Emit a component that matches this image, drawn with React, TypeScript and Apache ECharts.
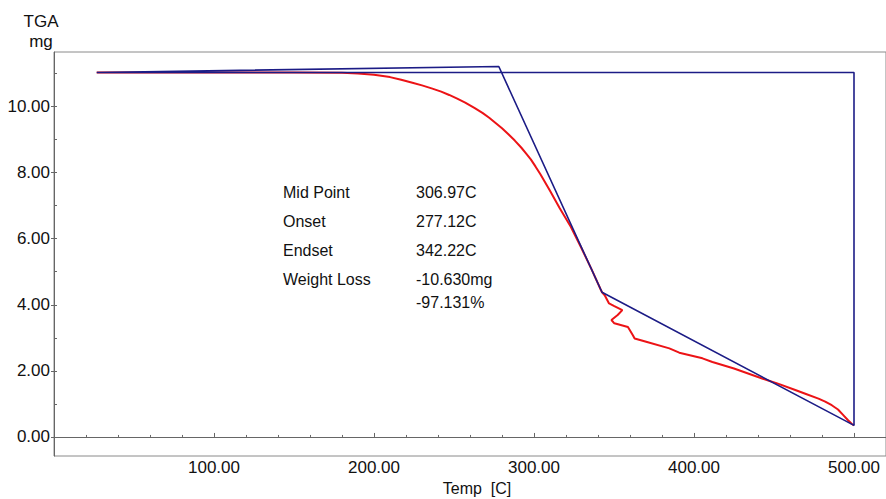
import React, { useEffect, useRef } from "react";
import * as echarts from "echarts";

// TGA mass-loss curve (temperature in C, mass in mg)
const curveTemp = [
  26.7, 60, 100, 150, 180, 190, 200, 210, 217, 224, 230, 236, 242, 247, 252, 257, 263, 268, 272,
  276, 280, 284, 288, 292, 295, 298, 301, 304, 307, 310, 316, 323, 329, 336, 341.6, 342.5, 344.2,
  346.9, 350.2, 355.2, 352.3, 348.4, 350.2, 358.7, 361.8, 362.9, 370.1, 384.6, 390.8, 405.3,
  411.5, 425, 442.6, 452, 463.3, 470, 477.8, 482, 486.1, 490, 493.3, 496, 498.5, 500,
];
const curveMass = [
  11.03, 11.03, 11.03, 11.03, 11.02, 11.0, 10.96, 10.89, 10.81, 10.72, 10.64, 10.55, 10.45, 10.35,
  10.24, 10.12, 9.95, 9.8, 9.66, 9.5, 9.34, 9.16, 8.97, 8.76, 8.58, 8.4, 8.18, 7.95, 7.7, 7.45,
  6.93, 6.36, 5.78, 5.07, 4.47, 4.38, 4.29, 4.04, 3.96, 3.84, 3.69, 3.54, 3.44, 3.33, 3.08, 2.98,
  2.88, 2.68, 2.55, 2.38, 2.27, 2.07, 1.77, 1.62, 1.42, 1.3, 1.16, 1.07, 0.96, 0.83, 0.66, 0.52,
  0.4, 0.35,
];

// Onset / endset construction lines (baseline, tangents, drop at the end)
const constructTemp = [26.7, 500, 500, 342.5, 278.0, 26.7];
const constructMass = [11.03, 11.03, 0.35, 4.38, 11.21, 11.03];

// Axis ticks
const xLabelValues = [100, 200, 300, 400, 500];
const xMinorValues = [20, 40, 60, 80, 120, 140, 160, 180, 220, 240, 260, 280, 320, 340, 360, 380, 420, 440, 460, 480];
const yLabelValues = [0, 2, 4, 6, 8, 10];
const yMinorValues = [1, 3, 5, 7, 9, 11];

// Analysis results
const resultNames = ["Mid Point", "Onset", "Endset", "Weight Loss"];
const resultValues = ["306.97C", "277.12C", "342.22C", "-10.630mg", "-97.131%"];
const resultRowY = [192, 221, 250, 279, 302];

const FONT = "'Liberation Sans', Arial, sans-serif";
const AXIS_COLOR = "#666666";

export default function App() {
  const ref = useRef<HTMLDivElement>(null);

  useEffect(() => {
    document.body.style.margin = "0";
    if (!ref.current) return;
    const chart = echarts.init(ref.current, null, { renderer: "svg" });

    const toPairs = (xs: number[], ys: number[]) => xs.map((x, i) => [x, ys[i]]);

    const xRange = { min: 0, max: 520 };
    const yRange = { min: -0.576, max: 11.65 };

    const graphics: any[] = [
      {
        type: "text",
        x: 41,
        y: 21,
        style: { text: "TGA", font: `17px ${FONT}`, fill: "#111", align: "center", verticalAlign: "middle" },
      },
      {
        type: "text",
        x: 41,
        y: 41,
        style: { text: "mg", font: `17px ${FONT}`, fill: "#111", align: "center", verticalAlign: "middle" },
      },
      {
        type: "text",
        x: 477,
        y: 488,
        style: { text: "Temp  [C]", font: `16px ${FONT}`, fill: "#111", align: "center", verticalAlign: "middle" },
      },
    ];
    resultNames.forEach((name, i) => {
      graphics.push({
        type: "text",
        x: 283,
        y: resultRowY[i],
        style: { text: name, font: `16px ${FONT}`, fill: "#111", verticalAlign: "middle" },
      });
    });
    resultValues.forEach((val, i) => {
      graphics.push({
        type: "text",
        x: 416,
        y: resultRowY[i],
        style: { text: val, font: `16px ${FONT}`, fill: "#111", verticalAlign: "middle" },
      });
    });

    chart.setOption({
      animation: false,
      backgroundColor: "#ffffff",
      grid: {
        left: 54,
        right: 0,
        top: 52,
        bottom: 43,
        show: true,
        borderColor: "#8a8a8a",
        borderWidth: 1,
        backgroundColor: "transparent",
      },
      xAxis: [
        {
          type: "value",
          ...xRange,
          axisLine: { show: true, lineStyle: { color: AXIS_COLOR, width: 1 } },
          axisTick: {
            show: true,
            inside: true,
            length: 4,
            customValues: xLabelValues,
            lineStyle: { color: AXIS_COLOR },
          },
          axisLabel: {
            customValues: xLabelValues,
            formatter: (v: number) => v.toFixed(2),
            color: "#111",
            fontFamily: FONT,
            fontSize: 17,
            margin: 3,
          },
          splitLine: { show: false },
        },
        {
          type: "value",
          position: "bottom",
          ...xRange,
          axisLine: { show: false },
          axisTick: {
            show: true,
            inside: true,
            length: 2,
            customValues: xMinorValues,
            lineStyle: { color: AXIS_COLOR },
          },
          axisLabel: { show: false },
          splitLine: { show: false },
        },
      ],
      yAxis: [
        {
          type: "value",
          ...yRange,
          axisLine: { show: true, lineStyle: { color: AXIS_COLOR, width: 1 } },
          axisTick: {
            show: true,
            inside: false,
            length: 3,
            customValues: yLabelValues,
            lineStyle: { color: AXIS_COLOR },
          },
          axisLabel: {
            customValues: yLabelValues,
            formatter: (v: number) => v.toFixed(2),
            color: "#111",
            fontFamily: FONT,
            fontSize: 17,
            margin: 4,
          },
          splitLine: { show: false },
        },
        {
          type: "value",
          position: "left",
          ...yRange,
          axisLine: { show: false },
          axisTick: {
            show: true,
            inside: true,
            length: 3,
            customValues: [...yLabelValues, ...yMinorValues],
            lineStyle: { color: AXIS_COLOR },
          },
          axisLabel: { show: false },
          splitLine: { show: false },
        },
      ],
      series: [
        {
          type: "line",
          name: "TGA",
          data: toPairs(curveTemp, curveMass),
          showSymbol: false,
          symbol: "none",
          lineStyle: { color: "#ec1316", width: 2 },
          z: 2,
        },
        {
          type: "line",
          name: "Analysis",
          data: toPairs(constructTemp, constructMass),
          showSymbol: false,
          symbol: "none",
          lineStyle: { color: "#1c1c86", width: 1.6 },
          z: 3,
        },
      ],
      graphic: graphics,
    });

    return () => chart.dispose();
  }, []);

  return <div ref={ref} style={{ width: 886, height: 499 }} />;
}
